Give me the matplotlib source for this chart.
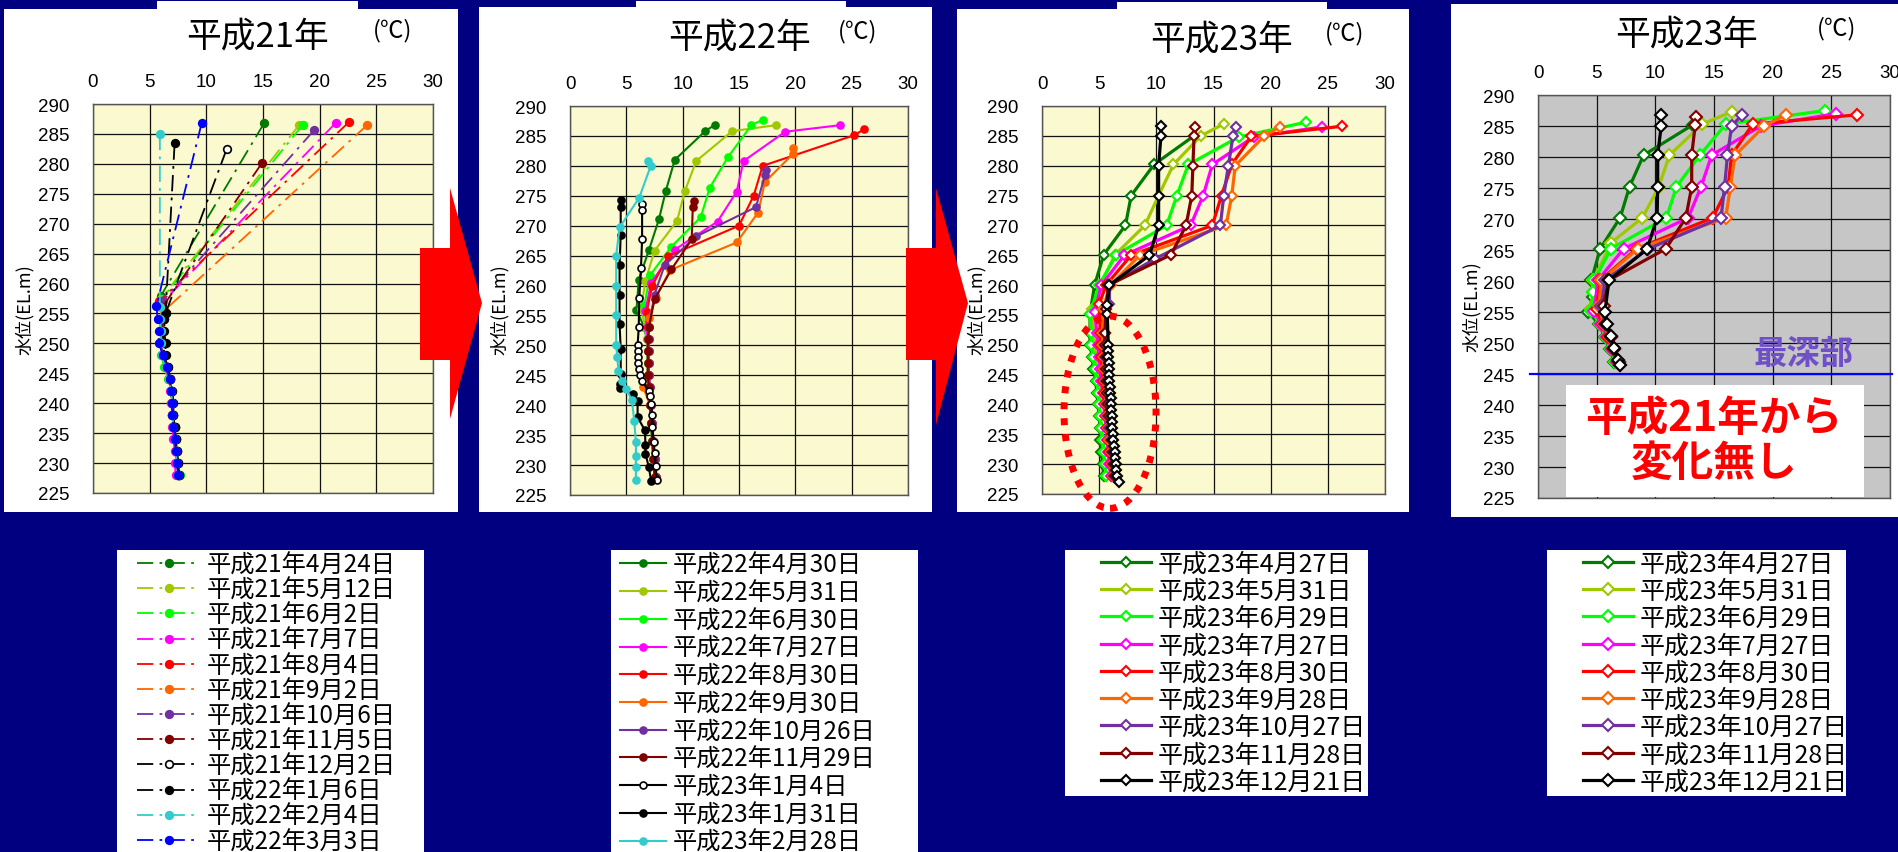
import matplotlib
matplotlib.use("Agg")
import matplotlib.pyplot as plt
from matplotlib.patches import Rectangle, Polygon, Ellipse

plt.rcParams['font.family'] = ['Noto Sans CJK JP', 'DejaVu Sans']

# ---------------------------------------------------------------- data
# 平成21年 (dash-dot lines, round markers)
h21_labels = ['平成21年4月24日', '平成21年5月12日', '平成21年6月2日', '平成21年7月7日',
              '平成21年8月4日', '平成21年9月2日', '平成21年10月6日', '平成21年11月5日',
              '平成21年12月2日', '平成22年1月6日', '平成22年2月4日', '平成22年3月3日']
h21_colors = ['#007a00', '#a0c800', '#00ff00', '#ff00ff', '#ff0000', '#ff6600',
              '#7030a0', '#800000', '#000000', '#000000', '#33cccc', '#0000ff']
h21_open = [False] * 8 + [True] + [False] * 3
h21_elev_upper = [[286.8, 258.0], [286.5, 257.5], [286.5, 257.5], [286.8, 257.0],
                  [287.0, 257.0], [286.5, 255.5], [285.6, 257.0], [280.1, 256.0],
                  [282.5, 255.0], [283.4, 255.0], [285.0, 256.0], [286.9, 256.3]]
h21_elev_deep = [254, 252, 250, 248, 246, 244, 242, 240, 238, 236, 234, 232, 230, 228]
h21_temp = [
    [15.1, 6.0, 6.0, 6.1, 6.0, 6.2, 6.5, 6.8, 6.9, 7.0, 7.0, 7.1, 7.2, 7.3, 7.4, 7.5],
    [18.2, 6.0, 6.0, 6.1, 6.0, 6.1, 6.4, 6.7, 6.9, 7.0, 7.1, 7.1, 7.2, 7.3, 7.4, 7.6],
    [18.5, 6.1, 6.1, 6.1, 6.0, 6.0, 6.3, 6.6, 6.9, 7.0, 7.1, 7.2, 7.3, 7.4, 7.5, 7.7],
    [21.4, 6.2, 6.0, 6.0, 5.9, 6.1, 6.4, 6.7, 6.8, 6.9, 7.0, 7.0, 7.1, 7.2, 7.2, 7.3],
    [22.6, 5.8, 5.9, 6.0, 6.0, 6.2, 6.4, 6.7, 6.9, 7.0, 7.0, 7.1, 7.2, 7.3, 7.4, 7.5],
    [24.2, 6.3, 6.1, 6.1, 6.0, 6.2, 6.5, 6.7, 6.9, 7.0, 7.1, 7.1, 7.2, 7.3, 7.4, 7.5],
    [19.5, 6.1, 6.0, 6.0, 6.0, 6.2, 6.5, 6.8, 6.9, 7.0, 7.1, 7.2, 7.3, 7.4, 7.5, 7.6],
    [14.9, 6.1, 6.1, 6.2, 6.1, 6.2, 6.5, 6.8, 6.9, 7.0, 7.1, 7.2, 7.3, 7.4, 7.5, 7.6],
    [11.8, 6.4, 6.3, 6.2, 6.2, 6.3, 6.6, 6.8, 7.0, 7.1, 7.1, 7.2, 7.3, 7.4, 7.5, 7.6],
    [7.2, 6.4, 6.3, 6.3, 6.4, 6.4, 6.6, 6.8, 7.0, 7.1, 7.1, 7.2, 7.3, 7.4, 7.5, 7.6],
    [5.9, 5.9, 5.9, 6.0, 6.0, 6.1, 6.4, 6.7, 6.9, 7.0, 7.0, 7.1, 7.2, 7.3, 7.4, 7.5],
    [9.6, 5.6, 5.7, 5.8, 5.8, 6.2, 6.5, 6.75, 6.9, 6.95, 7.0, 7.1, 7.2, 7.3, 7.4, 7.5],
]

# 平成22年 (solid lines, round markers)
h22_labels = ['平成22年4月30日', '平成22年5月31日', '平成22年6月30日', '平成22年7月27日',
              '平成22年8月30日', '平成22年9月30日', '平成22年10月26日', '平成22年11月29日',
              '平成23年1月4日', '平成23年1月31日', '平成23年2月28日']
h22_colors = ['#007a00', '#a0c800', '#00ff00', '#ff00ff', '#ff0000', '#ff6600',
              '#7030a0', '#800000', '#000000', '#000000', '#33cccc']
h22_open = [False] * 8 + [True, False, False]
h22_elev_deep = [253, 251, 249, 247, 245, 243, 240, 237, 234, 231, 228]
h22_elev = [
    [286.9, 285.8, 281.0, 275.8, 271.1, 265.9, 260.9, 255.9],
    [286.8, 285.8, 280.8, 275.8, 270.8, 265.8, 260.8, 256.0],
    [287.7, 286.8, 281.4, 276.3, 271.4, 266.5, 261.7, 256.7],
    [286.8, 285.7, 280.8, 275.7, 270.7, 266.0, 260.5, 255.8],
    [286.1, 285.1, 280.0, 275.0, 270.0, 264.9, 260.0, 255.5],
    [283.0, 282.0, 277.3, 272.2, 267.2, 262.6, 258.0, 254.5],
    [279.3, 278.4, 273.1, 268.2, 263.4, 258.5],
    [274.2, 273.1, 267.7, 262.7, 257.7],
    [273.7, 272.6, 267.7, 263.0, 258.0, 253.0, 250.0, 249.0, 248.0, 247.0, 246.0,
     245.1, 244.0, 242.4, 241.5, 240.2, 238.3, 236.3, 233.9, 232.1, 229.9, 227.5],
    [274.3, 273.2, 268.4, 263.4, 258.5, 253.5, 249.4, 245.2, 243.6, 242.9, 241.9,
     240.7, 238.0, 235.8, 233.3, 231.9, 229.6, 227.4],
    [280.8, 279.9, 274.7, 269.7, 265.0, 260.0, 255.1, 250.1, 248.0, 245.8, 244.0,
     242.7, 240.8, 237.4, 233.8, 231.6, 229.7, 227.5],
]
h22_temp = [
    [12.9, 12.0, 9.3, 8.5, 7.9, 7.0, 6.1, 5.9],
    [18.3, 14.4, 11.2, 10.2, 9.5, 7.5, 6.7, 6.3],
    [17.1, 16.1, 14.0, 12.4, 11.6, 9.0, 7.1, 6.6],
    [24.0, 19.1, 15.4, 14.8, 13.1, 9.3, 7.2, 6.7],
    [26.1, 25.2, 17.1, 16.3, 15.0, 8.7, 7.3, 6.8],
    [19.8, 19.8, 17.3, 16.7, 14.8, 8.9, 7.6, 7.0],
    [17.4, 17.3, 16.5, 11.2, 8.4, 7.5],
    [11.0, 10.9, 10.8, 9.0, 7.5],
    [6.4, 6.4, 6.4, 6.3, 6.15, 6.1, 6.0, 6.0, 6.0, 6.0, 6.1,
     6.2, 6.4, 7.0, 7.1, 7.2, 7.3, 7.3, 7.45, 7.5, 7.6, 7.7],
    [4.5, 4.5, 4.5, 4.4, 4.4, 4.4, 4.5, 4.5, 4.4, 4.4, 5.6,
     6.0, 6.0, 6.65, 6.7, 6.7, 7.0, 7.2],
    [6.9, 7.15, 6.15, 4.4, 4.1, 4.1, 4.1, 4.1, 4.2, 4.3, 4.6,
     5.0, 5.5, 5.7, 5.85, 5.85, 5.85, 5.85],
]
# deep-water readings for the first eight 平成22年 profiles (at h22_elev_deep)
h22_temp_deep = [
    [6.6, 6.8, 6.9, 6.9, 6.9, 7.0, 7.1, 7.2, 7.3, 7.4, 7.5],
    [6.7, 6.8, 6.9, 6.9, 6.9, 7.0, 7.1, 7.2, 7.3, 7.4, 7.5],
    [6.8, 6.9, 6.9, 6.9, 7.0, 7.0, 7.1, 7.2, 7.3, 7.5, 7.6],
    [6.8, 6.9, 6.9, 7.0, 7.0, 7.0, 7.1, 7.2, 7.4, 7.5, 7.6],
    [6.9, 7.0, 7.0, 7.0, 7.0, 7.1, 7.2, 7.3, 7.4, 7.5, 7.6],
    [7.0, 7.0, 7.0, 7.0, 7.0, 6.5, 7.1, 7.2, 7.4, 7.5, 7.6],
    [7.0, 7.0, 7.0, 7.0, 7.0, 7.1, 7.2, 7.3, 7.4, 7.5, 7.6],
    [7.0, 6.9, 6.9, 6.9, 6.9, 7.0, 7.1, 7.2, 7.3, 7.4, 7.5],
]

# 平成23年 (thick lines, open diamonds)
h23_labels = ['平成23年4月27日', '平成23年5月31日', '平成23年6月29日', '平成23年7月27日',
              '平成23年8月30日', '平成23年9月28日', '平成23年10月27日', '平成23年11月28日',
              '平成23年12月21日']
h23_colors = ['#007a00', '#a0c800', '#00ff00', '#ff00ff', '#ff0000', '#ff6600',
              '#7030a0', '#800000', '#000000']
h23_elev_upper = [
    [285.0, 280.2, 275.0, 270.0, 265.1, 260.0, 255.2],
    [287.0, 285.0, 280.2, 275.0, 270.0, 265.1, 260.0, 256.0],
    [287.3, 284.8, 280.2, 275.0, 270.0, 265.1, 260.0, 255.2],
    [286.5, 284.8, 280.2, 275.0, 270.0, 265.0, 260.0, 255.5],
    [286.6, 284.9, 280.2, 275.0, 270.0, 265.0, 260.0, 256.8],
    [286.5, 284.9, 280.0, 275.0, 270.0, 265.0, 260.0, 256.0],
    [286.5, 284.9, 280.0, 275.0, 270.0, 264.4, 260.0, 256.8],
    [286.4, 284.9, 280.0, 275.0, 270.0, 265.1, 260.0, 256.0],
    [286.6, 284.9, 280.0, 275.0, 270.0, 265.0, 260.0, 256.7, 255.2],
]
h23_temp_upper = [
    [13.3, 9.8, 7.8, 7.3, 5.4, 4.6, 4.2],
    [15.9, 13.9, 11.5, 10.2, 9.0, 6.4, 5.1, 4.4],
    [23.1, 17.2, 12.8, 11.8, 10.9, 6.5, 5.0, 4.2],
    [24.5, 18.5, 14.9, 14.1, 13.0, 7.2, 5.2, 4.6],
    [26.2, 18.3, 16.6, 15.7, 14.9, 7.8, 5.6, 5.0],
    [20.8, 19.4, 16.9, 16.6, 16.1, 8.55, 6.0, 5.3],
    [17.0, 16.7, 16.3, 15.9, 15.6, 9.9, 5.9, 5.9],
    [13.4, 13.3, 13.2, 13.1, 12.6, 11.3, 5.8, 5.6],
    [10.4, 10.4, 10.2, 10.2, 10.2, 9.4, 5.9, 5.7, 5.7],
]
h23_elev_deep = [252, 250, 248, 246, 244, 242, 240, 238, 236, 234, 232, 230, 228]
h23_elev_deep_fine = [250, 249, 248, 247, 246, 245, 244, 243, 242, 241, 240, 239,
                      238, 237, 236, 235, 234, 233, 232, 231, 230, 229, 228, 227]
h23_temp_deep = [
    [4.2, 4.2, 4.4, 4.5, 4.7, 4.8, 4.9, 5.0, 5.1, 5.1, 5.2, 5.3, 5.4],
    [4.5, 4.6, 4.7, 4.8, 4.9, 5.0, 5.0, 5.1, 5.2, 5.3, 5.4, 5.5, 5.6],
    [4.3, 4.3, 4.5, 4.6, 4.8, 4.9, 5.0, 5.1, 5.2, 5.3, 5.4, 5.5, 5.6],
    [4.8, 4.9, 5.0, 5.1, 5.2, 5.3, 5.4, 5.5, 5.6, 5.7, 5.8, 5.9, 6.0],
    [5.1, 5.1, 5.2, 5.3, 5.3, 5.4, 5.5, 5.6, 5.7, 5.8, 5.9, 6.0, 6.1],
    [5.3, 5.3, 5.4, 5.4, 5.5, 5.6, 5.6, 5.7, 5.8, 5.9, 6.0, 6.1, 6.2],
    [5.5, 5.5, 5.5, 5.6, 5.6, 5.7, 5.7, 5.8, 5.9, 6.0, 6.1, 6.2, 6.3],
    [5.5, 5.5, 5.6, 5.6, 5.7, 5.7, 5.8, 5.9, 6.0, 6.1, 6.2, 6.3, 6.4],
    [5.8, 5.8, 5.8, 5.85, 5.85, 5.9, 5.9, 5.95, 5.95, 6.0, 6.0, 6.05,
     6.1, 6.1, 6.15, 6.2, 6.25, 6.3, 6.35, 6.4, 6.45, 6.5, 6.6, 6.7],
]

# 平成23年, down to the deepest point only
h23b_elev = [
    [285.2, 280.3, 275.2, 270.2, 265.2, 260.1, 257.5, 255.0, 253.0, 251.0, 249.0, 247.0],
    [287.3, 285.3, 280.3, 275.2, 270.2, 266.2, 260.1, 258.2, 255.5, 253.0, 251.0, 249.0, 247.0],
    [287.5, 285.3, 280.3, 275.2, 270.2, 265.2, 260.1, 258.2, 255.2, 253.0, 251.0, 249.0, 247.0],
    [287.0, 285.0, 280.3, 275.2, 270.2, 265.2, 260.1, 255.2, 253.0, 251.0, 249.0, 247.0],
    [286.8, 285.3, 280.3, 275.2, 270.2, 265.2, 260.1, 255.5, 253.0, 251.0, 249.0, 247.0, 246.5],
    [286.8, 285.0, 280.3, 275.2, 270.2, 265.2, 260.1, 256.0, 253.0, 251.0, 249.0, 247.0],
    [286.8, 285.0, 280.3, 275.2, 270.2, 265.2, 260.1, 256.0, 253.0, 251.0, 249.0, 247.0],
    [286.4, 285.2, 280.3, 275.2, 270.2, 265.2, 260.1, 256.0, 253.0, 251.0, 249.0, 247.0],
    [286.8, 285.0, 280.3, 275.2, 270.2, 265.2, 260.1, 255.0, 253.1, 251.1, 249.2, 247.3, 246.4],
]
h23b_temp = [
    [13.2, 9.0, 7.8, 7.0, 5.3, 4.55, 4.7, 4.3, 5.2, 5.7, 6.1, 6.5],
    [16.5, 14.0, 11.2, 10.3, 8.9, 6.25, 4.7, 4.7, 4.5, 5.3, 5.8, 6.2, 6.6],
    [24.5, 16.0, 13.8, 11.8, 10.95, 6.2, 4.8, 4.7, 4.55, 5.3, 5.8, 6.2, 6.6],
    [25.4, 19.0, 14.8, 13.9, 12.8, 7.3, 5.1, 4.8, 5.4, 5.9, 6.3, 6.7],
    [27.2, 18.3, 16.5, 16.2, 14.9, 8.4, 5.3, 5.0, 5.5, 6.0, 6.4, 6.8, 7.0],
    [21.1, 19.3, 16.8, 16.4, 16.0, 8.5, 5.4, 5.2, 5.6, 6.1, 6.5, 6.9],
    [17.4, 16.5, 16.15, 15.9, 15.6, 9.4, 5.7, 5.4, 5.7, 6.2, 6.5, 6.9],
    [13.45, 13.4, 13.1, 13.1, 12.6, 10.9, 6.0, 5.6, 5.8, 6.2, 6.5, 6.9],
    [10.5, 10.5, 10.2, 10.2, 10.15, 9.3, 6.05, 5.7, 5.9, 6.25, 6.5, 6.8, 7.0],
]

deepest_elev = 245
x_ticks = [0, 5, 10, 15, 20, 25, 30]
y_ticks = [225, 230, 235, 240, 245, 250, 255, 260, 265, 270, 275, 280, 285, 290]

# ---------------------------------------------------------------- layout helpers
W, H = 1898, 853
fig = plt.figure(figsize=(W / 100, H / 100), dpi=100, facecolor='#000080')


def frac_rect(x0, y0, x1, y1):
    """Pixel box (origin top-left) -> [left, bottom, width, height] in figure fraction."""
    return [x0 / W, 1 - y1 / H, (x1 - x0) / W, (y1 - y0) / H]


def white_box(x0, y0, x1, y1):
    l, b, w, h = frac_rect(x0, y0, x1, y1)
    fig.add_artist(Rectangle((l, b), w, h, transform=fig.transFigure,
                             facecolor='white', edgecolor='none', zorder=-5))


def fig_text(x, y, s, **kw):
    fig.text(x / W, 1 - y / H, s, ha='center', va='center', **kw)


def setup_axes(ax, face):
    ax.set_xlim(0, 30)
    ax.set_ylim(225, 290)
    ax.set_xticks(x_ticks)
    ax.set_yticks(y_ticks)
    ax.xaxis.tick_top()
    ax.tick_params(axis='x', length=0, labelsize=13.5, pad=10)
    ax.tick_params(axis='y', length=0, labelsize=13.5, pad=17)
    for lab in ax.get_xticklabels() + ax.get_yticklabels():
        lab.set_family(['Liberation Sans', 'DejaVu Sans'])
    ax.set_facecolor(face)
    ax.grid(True, color='#111111', lw=0.9)
    ax.set_axisbelow(True)
    for s in ax.spines.values():
        s.set_color('#555555')
        s.set_linewidth(1.0)


# panel backgrounds
white_box(4, 10, 458, 513)
white_box(157, 2, 358, 60)
white_box(479, 8, 932, 513)
white_box(636, 2, 846, 60)
white_box(957, 10, 1409, 513)
white_box(1117, 3, 1327, 60)
white_box(1451, 5, 1898, 518)
# legend backgrounds
white_box(117, 551, 424, 853)
white_box(611, 551, 918, 853)
white_box(1065, 551, 1368, 797)
white_box(1547, 551, 1846, 797)

yellow = '#fbf9cf'
ax1 = fig.add_axes(frac_rect(93, 105, 433, 494))
ax2 = fig.add_axes(frac_rect(570, 107, 908, 496))
ax3 = fig.add_axes(frac_rect(1042, 107, 1385, 495))
ax4 = fig.add_axes(frac_rect(1538, 96, 1890, 499))
for ax, face in ((ax1, yellow), (ax2, yellow), (ax3, yellow), (ax4, '#c6c6c6')):
    setup_axes(ax, face)

# ---------------------------------------------------------------- 平成21年
for i, lab in enumerate(h21_labels):
    c = h21_colors[i]
    ax1.plot(h21_temp[i], h21_elev_upper[i] + h21_elev_deep, color=c, lw=1.3,
             linestyle=(0, (9, 3.5, 1.5, 3.5)), marker='o', ms=5.5,
             mfc='white' if h21_open[i] else c, mec=c, mew=1.2, label=lab)

# ---------------------------------------------------------------- 平成22年
for i, lab in enumerate(h22_labels):
    c = h22_colors[i]
    x = h22_temp[i] + (h22_temp_deep[i] if i < len(h22_temp_deep) else [])
    y = h22_elev[i] + (h22_elev_deep if i < len(h22_temp_deep) else [])
    ax2.plot(x, y, color=c, lw=1.5, marker='o', ms=5,
             mfc='white' if h22_open[i] else c, mec=c, mew=1.2, label=lab)

# ---------------------------------------------------------------- 平成23年
last = len(h23_labels) - 1
for i, lab in enumerate(h23_labels):
    c = h23_colors[i]
    deep_y = h23_elev_deep_fine if i == last else h23_elev_deep
    ax3.plot(h23_temp_upper[i] + h23_temp_deep[i], h23_elev_upper[i] + deep_y,
             color=c, lw=2.3, marker='D', ms=5.6, mfc='white', mec=c, mew=1.5,
             label=lab)

ax3.add_patch(Ellipse((5.95, 238.7), 8.05, 32.2, fill=False, edgecolor='#ff0000',
                      lw=5, linestyle=(0, (1, 1.3)), clip_on=False, zorder=10))

# ---------------------------------------------------------------- 平成23年 (最深部まで)
for i, lab in enumerate(h23_labels):
    c = h23_colors[i]
    ax4.plot(h23b_temp[i], h23b_elev[i], color=c, lw=2.3, marker='D', ms=5.8,
             mfc='white', mec=c, mew=1.5, label=lab)

ax4.axhline(deepest_elev, xmin=-0.023, xmax=1.006, color='#0000ff', lw=1.6,
            clip_on=False, zorder=6)
ax4.text(22.6, 248.3, '最深部', color='#7050c8', fontsize=24, fontweight='bold',
         ha='center', va='center', zorder=7)
ax4.add_patch(Rectangle((2.4, 225.2), 25.4, 18.0, facecolor='white',
                        edgecolor='none', zorder=7))
ax4.text(15.0, 234.3, '平成21年から\n変化無し', color='#ff0000', fontsize=30,
         fontweight='bold', ha='center', va='center', linespacing=1.1, zorder=8)

# ---------------------------------------------------------------- titles, units, axis labels
for cx, ux, ty, title in ((258, 393, 37, '平成21年'), (740, 858, 38, '平成22年'),
                          (1222, 1345, 40, '平成23年'), (1687, 1837, 35, '平成23年')):
    fig_text(cx, ty, title, fontsize=25, color='black')
    fig_text(ux, ty - 6, '(℃)', fontsize=17, color='black')

for lx, ly in ((25, 310), (500, 310), (977, 310), (1472, 307)):
    fig_text(lx, ly, '水位(EL.m)', fontsize=13, rotation=90, color='black')

# ---------------------------------------------------------------- arrows
for pts in ([(420, 249), (450, 249), (450, 189), (482, 304), (450, 420), (450, 361), (420, 361)],
            [(906, 249), (936, 249), (936, 189), (968, 304), (936, 426), (936, 361), (906, 361)]):
    fig.add_artist(Polygon([(x / W, 1 - y / H) for x, y in pts], closed=True,
                           transform=fig.transFigure, facecolor='#ff0000',
                           edgecolor='none', zorder=20))

# ---------------------------------------------------------------- legends
for ax, x0, yc, fs, hl, ls in ((ax1, 137, 704, 17.5, 2.6, -0.035),
                               (ax2, 620, 704.5, 17.5, 1.9, 0.07),
                               (ax3, 1101, 673.5, 18, 2.0, 0.05),
                               (ax4, 1583, 673.5, 18, 2.0, 0.05)):
    h, l = ax.get_legend_handles_labels()
    fig.legend(h, l, loc='center left', bbox_to_anchor=(x0 / W, 1 - yc / H),
               frameon=False, fontsize=fs, handlelength=hl, handletextpad=0.25,
               labelspacing=ls, borderpad=0, borderaxespad=0, numpoints=1)

fig.savefig('out.png', dpi=100, facecolor=fig.get_facecolor())
